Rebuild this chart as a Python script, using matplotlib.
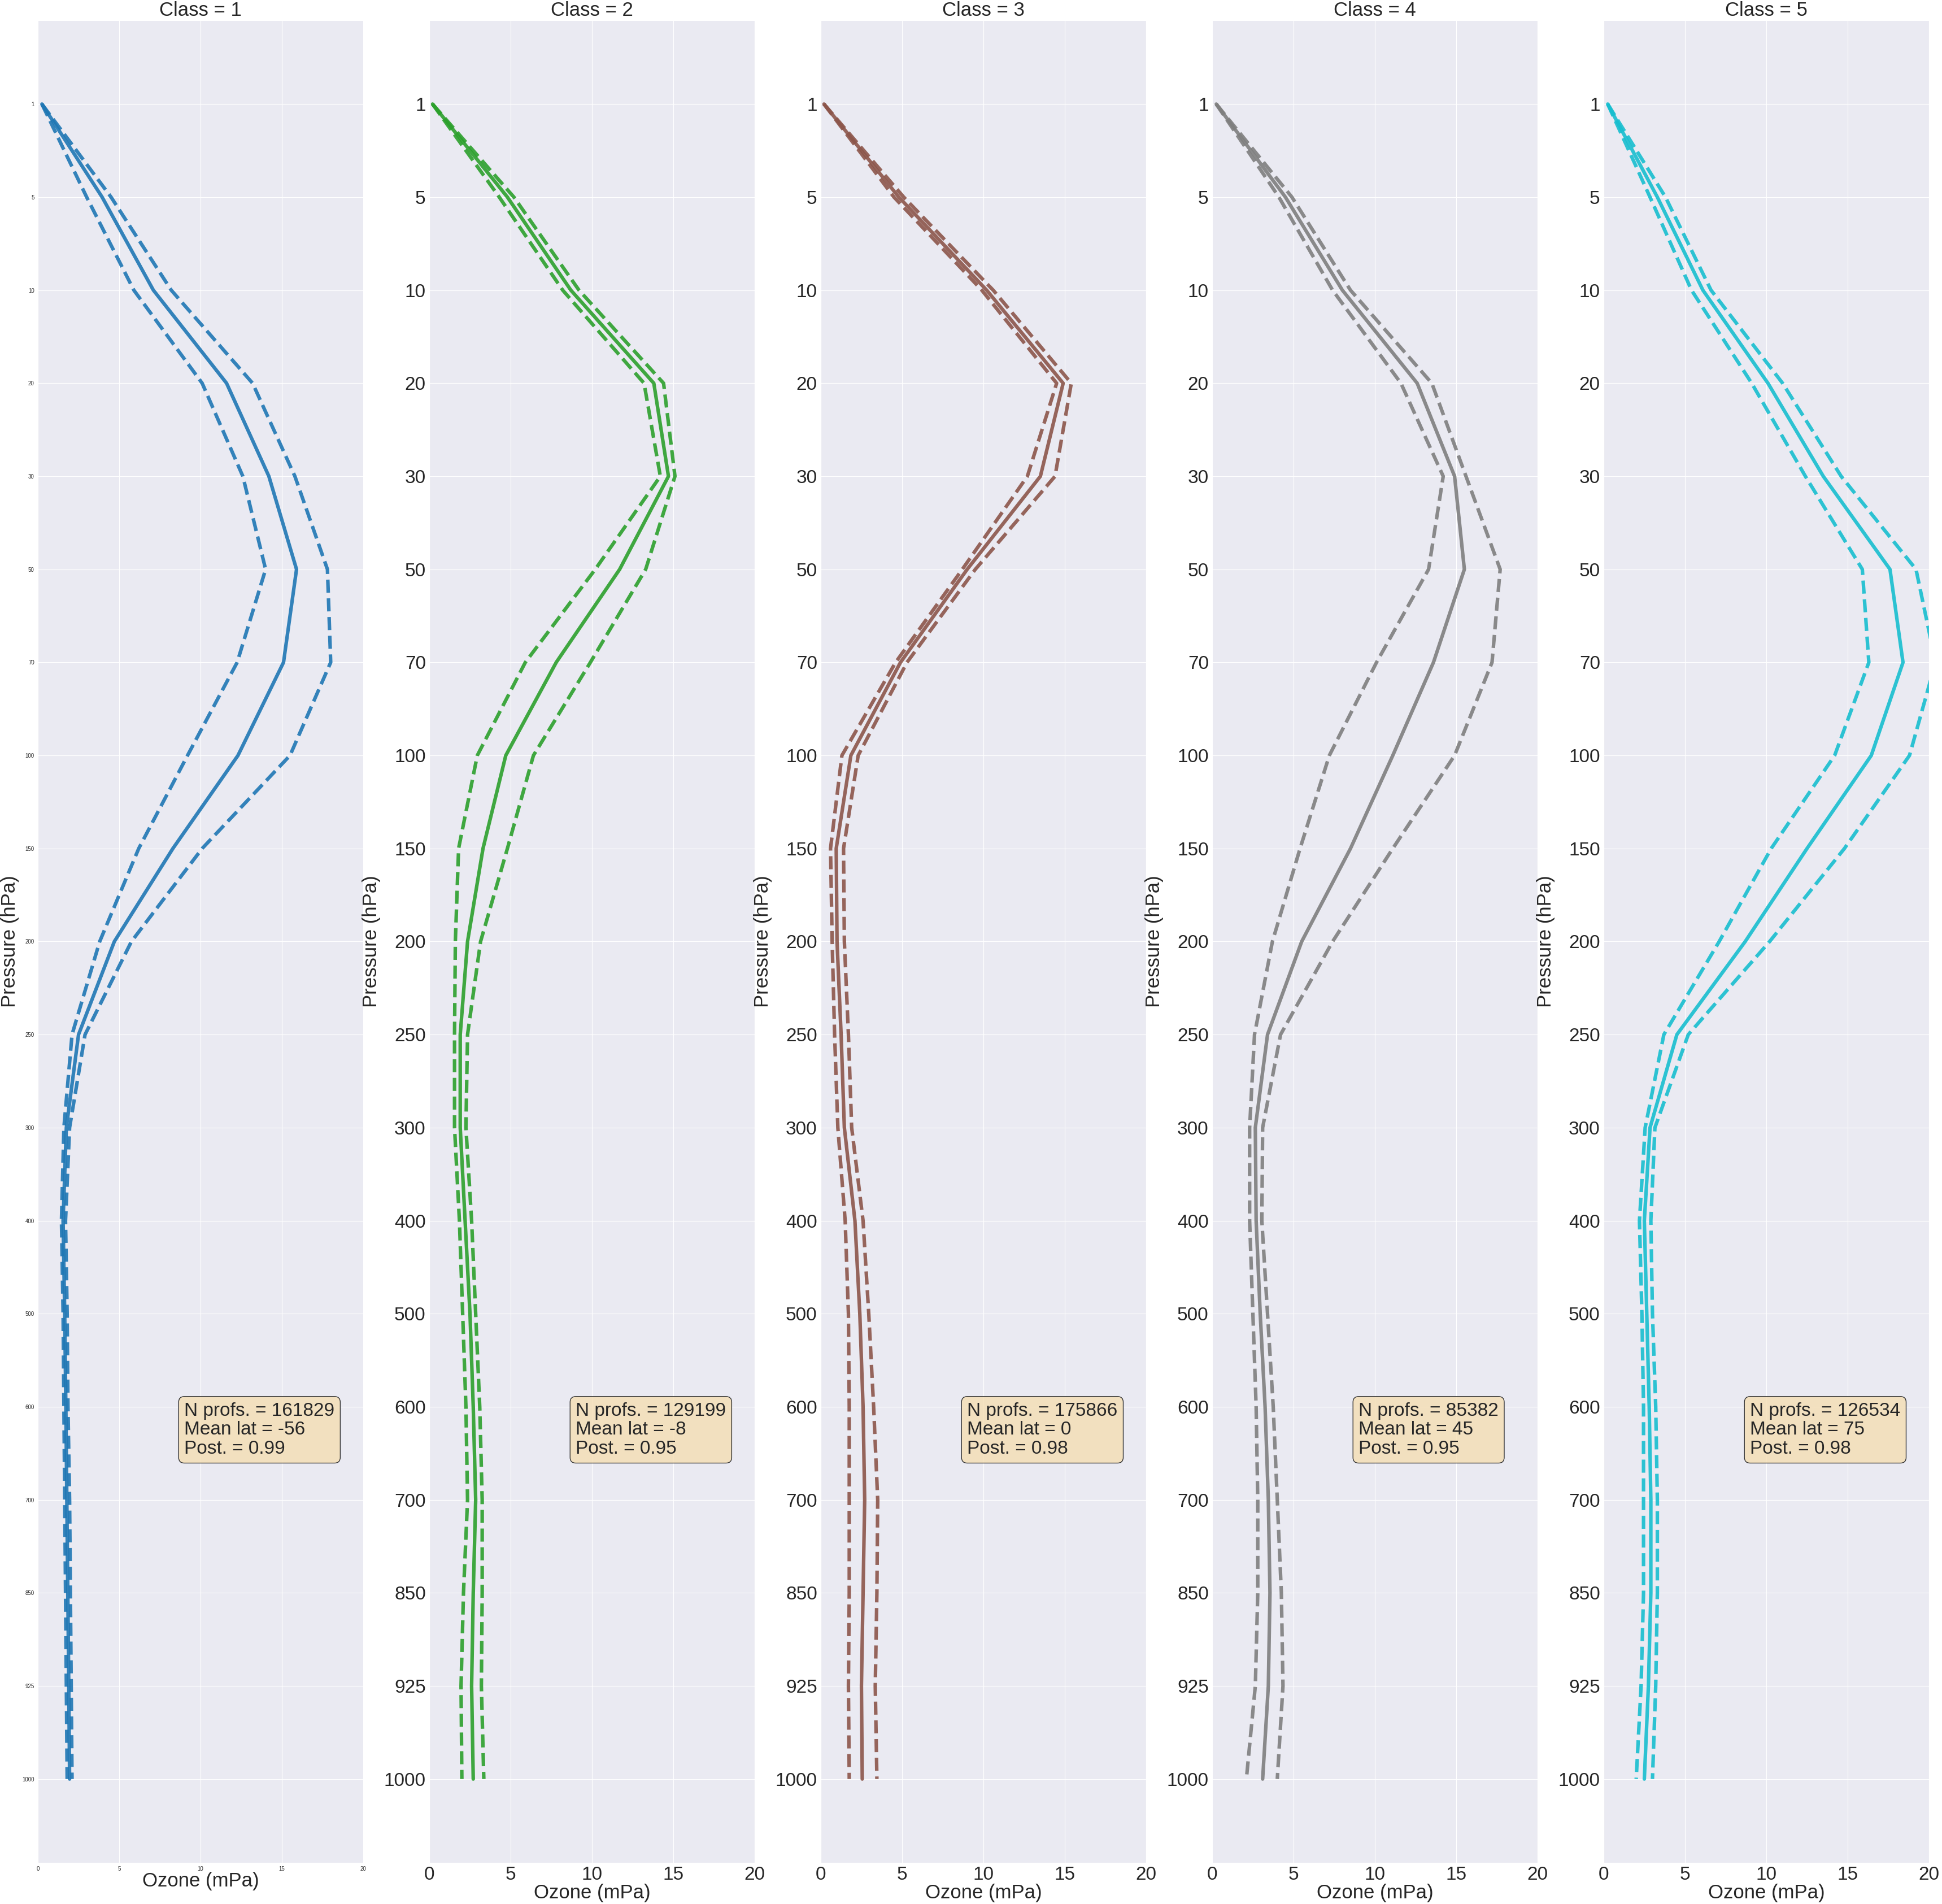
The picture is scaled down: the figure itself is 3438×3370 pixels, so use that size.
import matplotlib
matplotlib.use('Agg')

import matplotlib.pyplot as plt
from matplotlib.colors import to_rgba
import seaborn as sns

sns.set_style('darkgrid')
plt.rcParams['font.family'] = ['Liberation Sans', 'DejaVu Sans']

# pressure levels (hPa), top of the profile first
pressure_levels = [1, 5, 10, 20, 30, 50, 70, 100, 150, 200, 250, 300,
                   400, 500, 600, 700, 850, 925, 1000]

class_ids = [1, 2, 3, 4, 5]
class_colors = ['#1f77b4', '#2ca02c', '#8c564b', '#7f7f7f', '#17becf']

# ozone partial pressure (mPa): class mean and the +/- 1 std envelope
mean_c1 = [0.25, 3.95, 7.1, 11.6, 14.2, 15.9, 15.1, 12.3, 8.3, 4.7, 2.5, 1.75,
           1.55, 1.65, 1.72, 1.78, 1.84, 1.9, 1.95]
low_c1 = [0.25, 3.0, 5.9, 10.1, 12.6, 14.0, 12.25, 9.2, 6.2, 3.8, 2.1, 1.6,
          1.45, 1.55, 1.6, 1.65, 1.7, 1.75, 1.8]
high_c1 = [0.25, 4.5, 8.2, 13.2, 15.8, 17.8, 18.0, 15.5, 10.1, 5.75, 2.9, 1.95,
           1.7, 1.8, 1.85, 1.95, 2.0, 2.05, 2.1]

mean_c2 = [0.2, 4.8, 8.7, 13.8, 14.7, 11.7, 7.8, 4.7, 3.3, 2.35, 1.9, 1.9,
           2.2, 2.5, 2.7, 2.85, 2.7, 2.6, 2.7]
low_c2 = [0.2, 4.3, 8.2, 13.2, 14.2, 10.2, 5.9, 2.95, 1.8, 1.6, 1.55, 1.55,
          1.85, 2.05, 2.25, 2.35, 2.1, 1.95, 2.0]
high_c2 = [0.2, 5.2, 9.2, 14.4, 15.1, 13.3, 9.9, 6.4, 4.8, 3.15, 2.35, 2.25,
           2.6, 2.85, 3.1, 3.25, 3.25, 3.2, 3.35]

mean_c3 = [0.2, 4.8, 10.2, 14.9, 13.5, 9.0, 4.9, 1.85, 0.95, 1.0, 1.25, 1.45,
           2.1, 2.4, 2.6, 2.7, 2.6, 2.5, 2.55]
low_c3 = [0.2, 4.5, 9.9, 14.5, 12.7, 8.7, 4.6, 1.3, 0.6, 0.7, 0.85, 1.05,
          1.5, 1.7, 1.75, 1.75, 1.75, 1.7, 1.75]
high_c3 = [0.2, 5.1, 10.6, 15.4, 14.4, 9.5, 5.3, 2.3, 1.4, 1.45, 1.7, 1.9,
           2.6, 2.95, 3.25, 3.5, 3.45, 3.35, 3.45]

mean_c4 = [0.25, 4.5, 8.0, 12.6, 14.9, 15.5, 13.6, 11.1, 8.5, 5.5, 3.4, 2.65,
           2.7, 2.95, 3.25, 3.45, 3.55, 3.45, 3.1]
low_c4 = [0.25, 4.1, 7.4, 11.6, 14.2, 13.3, 10.1, 7.2, 5.4, 3.7, 2.6, 2.3,
          2.3, 2.5, 2.7, 2.8, 2.8, 2.65, 2.1]
high_c4 = [0.25, 4.9, 8.5, 13.5, 15.6, 17.7, 17.2, 14.9, 11.1, 7.4, 4.2, 3.1,
           3.05, 3.4, 3.75, 4.0, 4.25, 4.35, 4.0]

mean_c5 = [0.25, 3.3, 6.1, 10.1, 13.5, 17.6, 18.4, 16.45, 12.5, 8.7, 4.5, 2.85,
           2.5, 2.65, 2.8, 2.9, 2.9, 2.75, 2.5]
low_c5 = [0.25, 2.85, 5.4, 9.1, 12.4, 15.9, 16.3, 14.2, 10.3, 7.1, 3.7, 2.55,
          2.2, 2.35, 2.45, 2.45, 2.45, 2.3, 2.0]
high_c5 = [0.25, 3.8, 6.6, 11.0, 14.6, 19.2, 20.4, 18.8, 14.8, 10.2, 5.2, 3.15,
           2.9, 3.0, 3.2, 3.3, 3.3, 3.2, 3.0]

class_means = [mean_c1, mean_c2, mean_c3, mean_c4, mean_c5]
class_lows = [low_c1, low_c2, low_c3, low_c4, low_c5]
class_highs = [high_c1, high_c2, high_c3, high_c4, high_c5]

n_profs = [161829, 129199, 175866, 85382, 126534]
mean_lat = [-56, -8, 0, 45, 75]
posterior = [0.99, 0.95, 0.98, 0.95, 0.98]

x_ticks = [0, 5, 10, 15, 20]

fig = plt.figure(figsize=(34.38, 33.70), dpi=100)

left0, step, width = 0.0195, 0.20157, 0.16754
bottom, height = 0.02166, 0.96766

y_pos = list(range(len(pressure_levels)))

for i, cls in enumerate(class_ids):
    ax = fig.add_axes([left0 + i * step, bottom, width, height])
    color = class_colors[i]

    ax.plot(class_means[i], y_pos, color=color, lw=4.5, alpha=0.9)
    ax.plot(class_lows[i], y_pos, color=color, lw=4.5, ls='--', alpha=0.9)
    ax.plot(class_highs[i], y_pos, color=color, lw=4.5, ls='--', alpha=0.9)

    ax.set_xlim(0, 20)
    ax.set_xticks(x_ticks)
    ax.set_yticks(y_pos)
    ax.set_yticklabels([str(p) for p in pressure_levels])
    ax.invert_yaxis()

    # first panel kept its default (tiny) tick labels
    tick_fs = 7 if i == 0 else 24
    ax.tick_params(axis='both', labelsize=tick_fs, pad=1)

    ax.set_title(f'Class = {cls}', fontsize=25)
    ax.set_xlabel('Ozone (mPa)', fontsize=25, labelpad=0)
    ax.set_ylabel('Pressure (hPa)', fontsize=25)

    info = (f'N profs. = {n_profs[i]}\n'
            f'Mean lat = {mean_lat[i]}\n'
            f'Post. = {posterior[i]:.2f}')
    ax.text(0.45, 0.25, info, transform=ax.transAxes, fontsize=24,
            va='top', ha='left', color='#262626', linespacing=1.1,
            bbox=dict(boxstyle='round', facecolor=to_rgba('wheat', 0.8),
                      edgecolor='#333333', linewidth=1))

fig.savefig('out.png', dpi=100)
plt.close(fig)
